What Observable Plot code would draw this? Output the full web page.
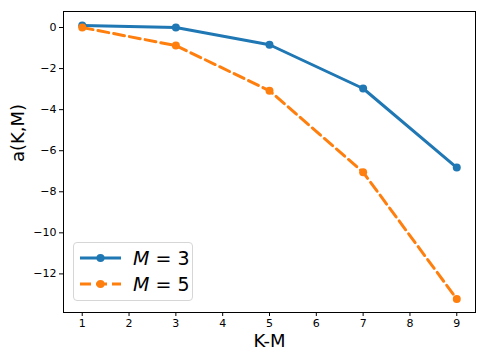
<!DOCTYPE html>
<html>
<head>
<meta charset="utf-8">
<script src="https://cdn.jsdelivr.net/npm/d3@7"></script>
<script src="https://cdn.jsdelivr.net/npm/@observablehq/plot@0.6"></script>
<style>
  html, body { margin: 0; padding: 0; background: #fff; }
  #wrap { position: relative; width: 486px; height: 364px; font-family: "DejaVu Sans", sans-serif; }
  #legend { position: absolute; left: 73px; top: 242px; width: 120px; height: 59px; box-sizing: border-box;
    border: 1px solid #d6d6d6; border-radius: 4px; background: rgba(255,255,255,0.8); }
  .row { position: absolute; left: 0; height: 26px; display: flex; align-items: center; }
  .row svg { margin-left: 6px; }
  .row span { margin-left: 12px; font-size: 19px; color: #000; white-space: nowrap; }
  .row i { font-style: italic; }
</style>
</head>
<body>
<div id="wrap"></div>
<script>
const kValues = [1, 3, 5, 7, 9];
const seriesM3 = [0.1, 0.0, -0.84, -2.97, -6.82];
const seriesM5 = [0.0, -0.88, -3.08, -7.05, -13.22];
const seriesNames = ["M = 3", "M = 5"];
const colors = ["#1f77b4", "#ff7f0e"];
const xTicks = [1, 2, 3, 4, 5, 6, 7, 8, 9];
const yTicks = [0, -2, -4, -6, -8, -10, -12];

const m3 = kValues.map((k, i) => ({k, a: seriesM3[i]}));
const m5 = kValues.map((k, i) => ({k, a: seriesM5[i]}));

const chart = Plot.plot({
  width: 486,
  height: 364,
  marginLeft: 63,
  marginRight: 11,
  marginTop: 11,
  marginBottom: 52,
  style: {fontFamily: "DejaVu Sans, sans-serif", fontSize: "11px", color: "#000", background: "#fff"},
  x: {domain: [0.6, 9.4]},
  y: {domain: [-13.88, 0.78]},
  marks: [
    Plot.frame({stroke: "#000", strokeWidth: 1}),
    Plot.axisX({ticks: xTicks, tickSize: 4, tickPadding: 3, label: null, fontSize: 11}),
    Plot.axisY({ticks: yTicks, tickSize: 4, tickPadding: 3, label: null, fontSize: 11, tickFormat: d => d < 0 ? "\u2212" + Math.abs(d) : String(d)}),
    Plot.line(m3, {x: "k", y: "a", stroke: colors[0], strokeWidth: 3}),
    Plot.dot(m3, {x: "k", y: "a", fill: colors[0], r: 4}),
    Plot.line(m5, {x: "k", y: "a", stroke: colors[1], strokeWidth: 3, strokeDasharray: "11,5"}),
    Plot.dot(m5, {x: "k", y: "a", fill: colors[1], r: 4}),
    Plot.text(["K-M"], {frameAnchor: "bottom", dy: 29, fontSize: 18, fill: "#000", lineAnchor: "middle"}),
    Plot.text(["a(K,M)"], {frameAnchor: "left", dx: -45, rotate: -90, fontSize: 18, fill: "#000", lineAnchor: "middle"})
  ]
});

const wrap = document.getElementById("wrap");
wrap.appendChild(chart);

const legend = document.createElement("div");
legend.id = "legend";
seriesNames.forEach((name, i) => {
  const row = document.createElement("div");
  row.className = "row";
  row.style.top = (i === 0 ? 2 : 28) + "px";
  const dash = i === 0 ? "" : ` stroke-dasharray="11,5"`;
  const parts = name.split(" = ");
  row.innerHTML = `<svg width="41" height="12"><line x1="0" y1="6" x2="41" y2="6" stroke="${colors[i]}" stroke-width="3"${dash}/><circle cx="20.5" cy="6" r="4" fill="${colors[i]}"/></svg><span><i>${parts[0]}</i> = ${parts[1]}</span>`;
  legend.appendChild(row);
});
wrap.appendChild(legend);
</script>
</body>
</html>
